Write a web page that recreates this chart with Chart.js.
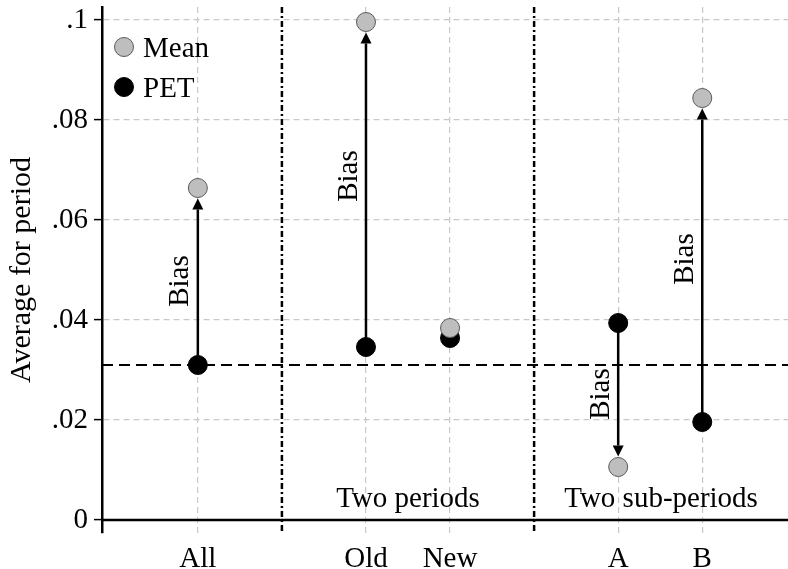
<!DOCTYPE html>
<html>
<head>
<meta charset="utf-8">
<script src="https://cdn.jsdelivr.net/npm/chart.js@4.4.1/dist/chart.umd.min.js"></script>
<style>
  html, body { margin: 0; padding: 0; background: #fff; }
  #chart { display: block; }
</style>
</head>
<body>
<canvas id="chart" width="788" height="569"></canvas>
<script>
const categories = ['All', 'Old', 'New', 'A', 'B'];
const xPos = [1, 3, 4, 6, 7];
const meanValues = [0.0664, 0.0996, 0.0384, 0.0106, 0.0844];
const petValues = [0.031, 0.0346, 0.0364, 0.0394, 0.0196];
const biasCats = ['All', 'Old', 'A', 'B'];
const biasLabelY = [0.0478, 0.0688, 0.0252, 0.0522];
const refLine = 0.031;
const separators = [2, 5];
const sectionLabels = ['Two periods', 'Two sub-periods'];
const yTicks = [0, 0.02, 0.04, 0.06, 0.08, 0.1];
const yTickLabels = ['0', '.02', '.04', '.06', '.08', '.1'];

const FONT = '"Liberation Serif", "Times New Roman", serif';
const MEAN_FILL = '#bebebe';
const MEAN_EDGE = '#5a5a5a';

function drawArrow(ctx, x, y0, y1, r) {
  const dir = y1 < y0 ? -1 : 1;
  const tip = y1 - dir * (r + 1);
  const head = 11;
  ctx.strokeStyle = '#000';
  ctx.lineWidth = 2.5;
  ctx.beginPath();
  ctx.moveTo(x, y0);
  ctx.lineTo(x, tip - dir * head);
  ctx.stroke();
  ctx.fillStyle = '#000';
  ctx.beginPath();
  ctx.moveTo(x, tip);
  ctx.lineTo(x - 5.5, tip - dir * head);
  ctx.lineTo(x + 5.5, tip - dir * head);
  ctx.closePath();
  ctx.fill();
}

function noPadding(s) {
  s.paddingTop = 0;
  s.paddingBottom = 0;
  s.paddingLeft = 0;
  s.paddingRight = 0;
}

const overlayPlugin = {
  id: 'overlay',
  beforeDatasetsDraw(chart) {
    const { ctx, chartArea: a, scales: { x, y } } = chart;
    ctx.save();

    // separators (dash-dot)
    ctx.strokeStyle = '#000';
    ctx.lineWidth = 2.5;
    ctx.setLineDash([6, 3, 2, 3]);
    separators.forEach((s) => {
      const px = x.getPixelForValue(s);
      ctx.beginPath();
      ctx.moveTo(px, a.top);
      ctx.lineTo(px, a.bottom);
      ctx.stroke();
    });

    // reference dashed line
    ctx.lineWidth = 2;
    ctx.setLineDash([11, 6]);
    const ry = y.getPixelForValue(refLine);
    ctx.beginPath();
    ctx.moveTo(a.left, ry);
    ctx.lineTo(a.right, ry);
    ctx.stroke();

    // zero line
    ctx.setLineDash([]);
    ctx.lineWidth = 2.5;
    const zy = y.getPixelForValue(0);
    ctx.beginPath();
    ctx.moveTo(a.left, zy);
    ctx.lineTo(a.right, zy);
    ctx.stroke();

    // section labels
    ctx.fillStyle = '#000';
    ctx.font = '29px ' + FONT;
    ctx.textAlign = 'center';
    ctx.textBaseline = 'alphabetic';
    sectionLabels.forEach((label, i) => {
      const from = separators[i];
      const to = separators[i + 1] ?? x.max;
      const cx = x.getPixelForValue((from + to) / 2);
      ctx.fillText(label, cx, zy - 13);
    });

    // bias arrows + labels
    biasCats.forEach((cat, i) => {
      const k = categories.indexOf(cat);
      const px = x.getPixelForValue(xPos[k]);
      const y0 = y.getPixelForValue(petValues[k]);
      const y1 = y.getPixelForValue(meanValues[k]);
      drawArrow(ctx, px, y0, y1, 9.5);
      ctx.save();
      ctx.translate(px - 17, y.getPixelForValue(biasLabelY[i]));
      ctx.rotate(-Math.PI / 2);
      ctx.fillStyle = '#000';
      ctx.textAlign = 'center';
      ctx.textBaseline = 'middle';
      ctx.font = '29px ' + FONT;
      ctx.fillText('Bias', 0, 0);
      ctx.restore();
    });
    ctx.restore();
  },
  afterDraw(chart) {
    const { ctx, chartArea: a } = chart;
    ctx.save();
    ctx.font = '29px ' + FONT;
    ctx.textAlign = 'left';
    ctx.textBaseline = 'alphabetic';
    chart.data.datasets.forEach((ds, i) => {
      const cy = a.top + 40 + i * 40;
      ctx.beginPath();
      ctx.arc(a.left + 22, cy, 9.5, 0, Math.PI * 2);
      ctx.fillStyle = ds.backgroundColor;
      ctx.fill();
      ctx.lineWidth = 1;
      ctx.strokeStyle = ds.borderColor;
      ctx.stroke();
      ctx.fillStyle = '#000';
      ctx.fillText(ds.label, a.left + 41, cy + 10);
    });
    ctx.restore();
  },
};

new Chart(document.getElementById('chart'), {
  type: 'scatter',
  data: {
    datasets: [
      {
        label: 'Mean',
        data: categories.map((c, i) => ({ x: xPos[i], y: meanValues[i] })),
        backgroundColor: MEAN_FILL,
        borderColor: MEAN_EDGE,
        borderWidth: 1,
        pointRadius: 9.5,
        pointHoverRadius: 9.5,
      },
      {
        label: 'PET',
        data: categories.map((c, i) => ({ x: xPos[i], y: petValues[i] })),
        backgroundColor: '#000',
        borderColor: '#000',
        borderWidth: 1,
        pointRadius: 9.5,
        pointHoverRadius: 9.5,
      },
    ],
  },
  options: {
    responsive: false,
    animation: false,
    layout: { autoPadding: false, padding: { top: 7, left: 0, right: 0, bottom: 0 } },
    plugins: {
      legend: { display: false },
      tooltip: { enabled: false },
    },
    scales: {
      x: {
        type: 'linear',
        min: -0.14,
        max: 8.02,
        afterBuildTicks: (s) => { s.ticks = xPos.map((v) => ({ value: v })); },
        afterFit: (s) => { s.height = 36; noPadding(s); },
        ticks: {
          autoSkip: false,
          maxRotation: 0,
          padding: 9,
          color: '#000',
          font: { family: FONT, size: 29 },
          callback: (v) => categories[xPos.indexOf(v)],
        },
        grid: { color: '#c8c8c8', lineWidth: 1.2, drawTicks: false },
        border: { display: false, dash: [6, 4] },
      },
      y: {
        min: -0.0026,
        max: 0.1026,
        afterBuildTicks: (s) => { s.ticks = yTicks.map((v) => ({ value: v })); },
        afterFit: (s) => { s.width = 102; noPadding(s); },
        ticks: {
          padding: 6,
          color: '#000',
          font: { family: FONT, size: 29 },
          callback: (v) => yTickLabels[yTicks.indexOf(v)],
        },
        grid: {
          color: '#c8c8c8',
          lineWidth: 1.2,
          tickColor: '#000',
          tickLength: 8,
          tickWidth: 1.5,
          tickBorderDash: [],
        },
        border: { display: true, color: '#000', width: 2.5, dash: [6, 4] },
        title: {
          display: true,
          text: 'Average for period',
          color: '#000',
          font: { family: FONT, size: 30 },
          padding: { top: 4, bottom: 0 },
        },
      },
    },
  },
  plugins: [overlayPlugin],
});
</script>
</body>
</html>
